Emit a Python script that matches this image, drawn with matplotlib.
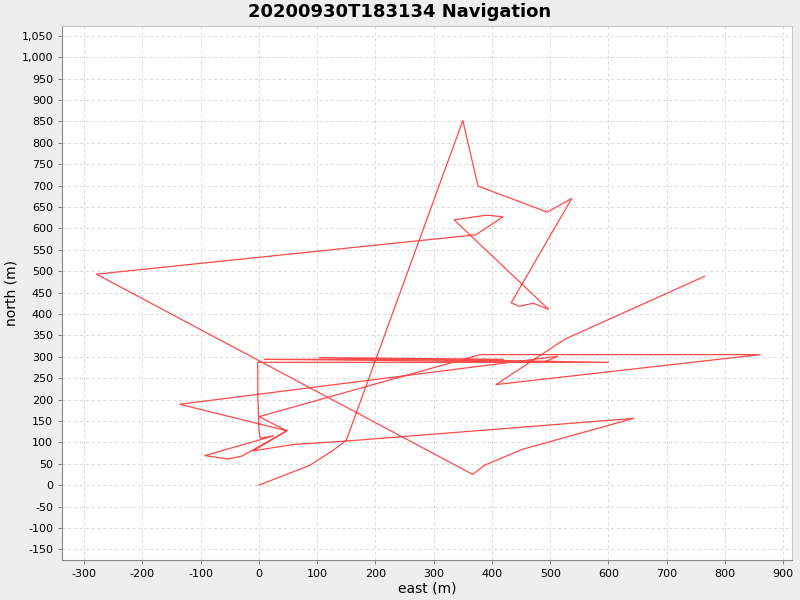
import matplotlib
matplotlib.use('Agg')
import matplotlib.pyplot as plt
from matplotlib.ticker import MultipleLocator, FuncFormatter

plt.rcParams['axes.unicode_minus'] = False

# navigation track (east, north) in metres
east = [0, 87, 128, 150, 350, 376, 495, 537, 433, 447, 471, 497, 335, 391, 419, 372,
        -279, 367, 388, 453, 643, 150, 59, -10, 48, -136, 513, 490, 9, 420, 103, 600,
        -2, -2, 0, 2, 25, -93, -53, -29, 48, 0, 0, 380, 860, 407, 525, 765]
north = [0, 46, 82, 105, 852, 699, 638, 670, 426, 418, 425, 411, 620, 631, 627, 585,
         493, 25, 47, 84, 156, 103, 95, 80, 127, 189, 301, 288, 294, 294, 298, 287,
         287, 218, 130, 110, 115, 69, 61, 68, 127, 160, 160, 305, 305, 235, 341, 488]

title = '20200930T183134 Navigation'

fig = plt.figure(figsize=(8, 6), dpi=100, facecolor='#eeeeee')
ax = fig.add_axes([62 / 800, 40 / 600, 730 / 800, 534 / 600])
ax.set_facecolor('white')

ax.plot(east, north, color='#ff4a4a', linewidth=0.9)

ax.set_xlim(-338, 915)
ax.set_ylim(-175, 1073)
ax.xaxis.set_major_locator(MultipleLocator(100))
ax.yaxis.set_major_locator(MultipleLocator(50))
ax.xaxis.set_major_formatter(FuncFormatter(lambda v, p: f'{v:,.0f}'))
ax.yaxis.set_major_formatter(FuncFormatter(lambda v, p: f'{v:,.0f}'))
ax.grid(True, color='#d8d8d8', linestyle=(0, (3, 3)), linewidth=0.7)
ax.set_axisbelow(True)
ax.tick_params(labelsize=8, length=3, color='#888888')

for s in ['top', 'right']:
    ax.spines[s].set_color('#c8c8c8')
for s in ['left', 'bottom']:
    ax.spines[s].set_color('#888888')

ax.set_xlabel('east (m)', fontsize=10, labelpad=2)
ax.set_ylabel('north (m)', fontsize=10, labelpad=2)
fig.suptitle(title, fontsize=13, fontweight='bold', y=0.995)

fig.savefig('out.png', dpi=100, facecolor=fig.get_facecolor())
